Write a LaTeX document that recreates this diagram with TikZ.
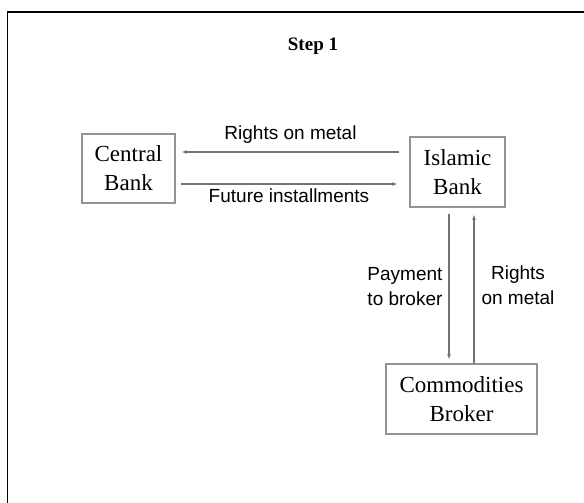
\documentclass[tikz,border=0pt]{standalone}
\usepackage{fontspec}
\setmainfont{Liberation Serif}
\newfontfamily\labelfont{Liberation Sans}
\usepackage{tikz}
\usetikzlibrary{arrows.meta,positioning}

\begin{document}
\begin{tikzpicture}[
  x=1pt,y=-1pt,
  party/.style={draw=gray!85,line width=1.3pt,inner sep=0pt,align=center,
                font=\fontsize{23}{29}\selectfont},
  title/.style={font=\fontsize{19}{22}\selectfont\bfseries},
  lbl/.style={font=\labelfont\fontsize{19}{25}\selectfont,inner sep=0pt},
  arr/.style={-{Latex[length=5pt,width=4pt]},draw=gray!90!black,line width=1.1pt}
]
\useasboundingbox (0,0) rectangle (584,503);
% frame
\draw[line width=1.4pt] (7.5,503) -- (7.5,12) -- (584,12);

\node[title] (ttl) at (313,46) {Step 1};

\node[party,minimum width=93pt,minimum height=69pt] (cb) at (128.5,168.5) {Central\\Bank};
\node[party,minimum width=95pt,minimum height=70pt] (isl) at (457.5,172) {Islamic\\Bank};
\node[party,minimum width=151pt,minimum height=70pt] (com) at (461.5,399) {Commodities\\Broker};

% between the banks
\draw[arr] ([xshift=-10pt]isl.west |- 0,152) -- ([xshift=6pt]cb.east |- 0,152)
  node[lbl,midway,above=8pt] {Rights on metal};
\draw[arr] ([xshift=5pt]cb.east |- 0,184) -- ([xshift=-12pt]isl.west |- 0,184)
  node[lbl,midway,below=4pt] {Future installments};

% to and from the broker
\draw[arr] ([yshift=-6pt]isl.south -| 449,0) -- ([yshift=4pt]com.north -| 449,0)
  node[lbl,midway,left=6pt,align=right] {Payment\\to broker};
\draw[arr] (com.north -| 474,0) -- ([yshift=-7pt]isl.south -| 474,0)
  node[lbl,midway,right=7pt,yshift=4pt,align=center] {Rights\\on metal};
\end{tikzpicture}
\end{document}
